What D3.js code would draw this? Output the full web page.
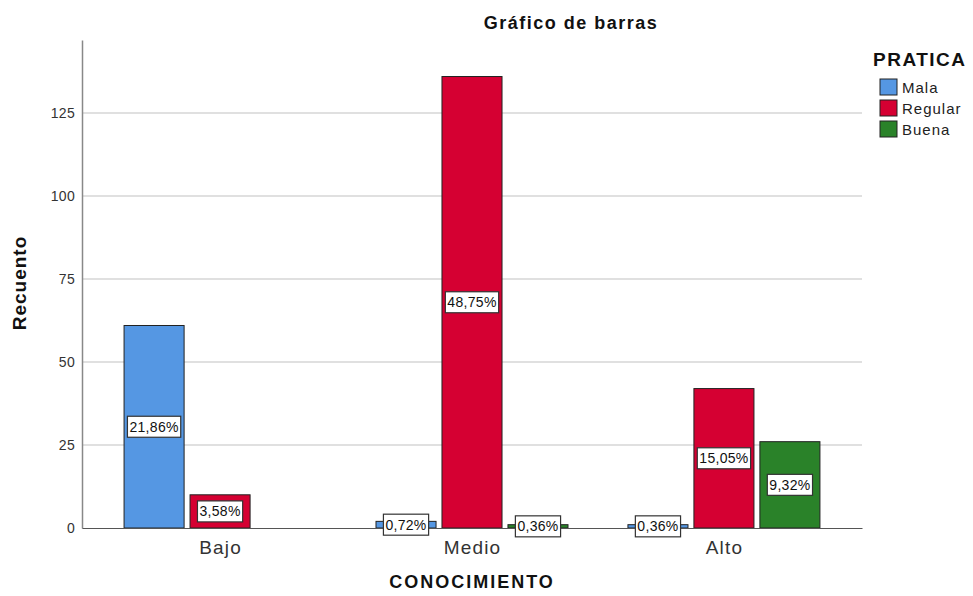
<!DOCTYPE html>
<html>
<head>
<meta charset="utf-8">
<script src="https://cdn.jsdelivr.net/npm/d3@7"></script>
<style>
  body { margin: 0; background: #fff; }
  text { font-family: "Liberation Sans", Arial, sans-serif; }
</style>
</head>
<body>
<div id="chart"></div>
<script>
// data
var categories = ["Bajo", "Medio", "Alto"];
var series = ["Mala", "Regular", "Buena"];
var mala = [61, 2, 1];
var regular = [10, 136, 42];
var buena = [0, 1, 26];
var yTicks = [0, 25, 50, 75, 100, 125];

var colors = { Mala: "#5597e3", Regular: "#d50032", Buena: "#2a8229" };

var width = 973, height = 596;
var margin = { top: 40, right: 111, bottom: 68, left: 82 };
var chartWidth = width - margin.left - margin.right;
var chartHeight = height - margin.top - margin.bottom;

var values = { Mala: mala, Regular: regular, Buena: buena };
var total = d3.sum(mala) + d3.sum(regular) + d3.sum(buena);

var rows = [];
categories.forEach(function(c, i) {
  series.forEach(function(s) {
    rows.push({ cat: c, ser: s, value: values[s][i] });
  });
});

var svg = d3
  .select("#chart")
  .append("svg")
  .attr("width", width)
  .attr("height", height);

var g = svg
  .append("g")
  .attr("transform", "translate(" + margin.left + "," + margin.top + ")");

var xScale = d3
  .scalePoint()
  .domain(categories)
  .range([0, chartWidth])
  .padding(0.548);

var xInner = d3
  .scaleBand()
  .domain(series)
  .range([-96, 96])
  .paddingInner(0.09);

var yScale = d3
  .scaleLinear()
  .domain([0, 147])
  .range([chartHeight, 0]);

// gridlines
g.append("g")
  .selectAll("line")
  .data(yTicks.slice(1))
  .enter()
  .append("line")
  .attr("x1", 0)
  .attr("x2", chartWidth)
  .attr("y1", function(d) { return yScale(d); })
  .attr("y2", function(d) { return yScale(d); })
  .attr("stroke", "#d6d6d6")
  .attr("stroke-width", 1.5);

// y axis
var yAxis = d3.axisLeft(yScale).tickValues(yTicks).tickSize(0).tickPadding(7);
var yG = g.append("g").attr("class", "y-axis").call(yAxis);
yG.select(".domain").attr("stroke", "#888").attr("stroke-width", 1.5);
yG.selectAll("text")
  .style("font-size", "14px")
  .style("letter-spacing", "0.3px")
  .attr("fill", "#333");

// bars
g.append("g")
  .selectAll("rect")
  .data(rows.filter(function(d) { return d.value > 0; }))
  .enter()
  .append("rect")
  .attr("x", function(d) { return xScale(d.cat) + xInner(d.ser); })
  .attr("y", function(d) { return yScale(d.value); })
  .attr("width", xInner.bandwidth())
  .attr("height", function(d) { return chartHeight - yScale(d.value); })
  .attr("fill", function(d) { return colors[d.ser]; })
  .attr("stroke", "#222")
  .attr("stroke-width", 1);

// x axis
var xAxis = d3.axisBottom(xScale).tickSize(0).tickPadding(13);
var xG = g
  .append("g")
  .attr("class", "x-axis")
  .attr("transform", "translate(0," + chartHeight + ")")
  .call(xAxis);
xG.select(".domain").attr("stroke", "#555").attr("stroke-width", 1.2);
xG.selectAll("text")
  .style("font-size", "19px")
  .style("letter-spacing", "1.2px")
  .attr("fill", "#333");

// percentage labels
var labels = g
  .append("g")
  .selectAll("g")
  .data(rows.filter(function(d) { return d.value > 0; }))
  .enter()
  .append("g")
  .attr("transform", function(d) {
    var cx = xScale(d.cat) + xInner(d.ser) + xInner.bandwidth() / 2;
    var cy = (yScale(d.value) + chartHeight) / 2;
    return "translate(" + cx + "," + cy + ")";
  });

labels
  .append("text")
  .text(function(d) {
    return ((d.value / total) * 100).toFixed(2).replace(".", ",") + "%";
  })
  .attr("text-anchor", "middle")
  .attr("dy", "0.36em")
  .style("font-size", "14px")
  .style("letter-spacing", "0.3px")
  .attr("fill", "#111");

labels.each(function() {
  var t = d3.select(this).select("text");
  var bb = t.node().getBBox();
  d3.select(this)
    .insert("rect", "text")
    .attr("x", bb.x - 2)
    .attr("y", -10.5)
    .attr("width", bb.width + 4)
    .attr("height", 21)
    .attr("fill", "#fff")
    .attr("stroke", "#333")
    .attr("stroke-width", 1.2);
});

// title and axis titles
svg
  .append("text")
  .text("Gráfico de barras")
  .attr("x", 571)
  .attr("y", 29)
  .attr("text-anchor", "middle")
  .style("font-size", "18px")
  .style("letter-spacing", "1.5px")
  .style("font-weight", "bold")
  .attr("fill", "#111");

svg
  .append("text")
  .text("CONOCIMIENTO")
  .attr("x", margin.left + chartWidth / 2)
  .attr("y", 588)
  .attr("text-anchor", "middle")
  .style("font-size", "18px")
  .style("letter-spacing", "2px")
  .style("font-weight", "bold")
  .attr("fill", "#111");

svg
  .append("text")
  .text("Recuento")
  .attr("transform", "translate(26," + (margin.top + chartHeight / 2 - 1) + ") rotate(-90)")
  .attr("text-anchor", "middle")
  .style("font-size", "19px")
  .style("letter-spacing", "1px")
  .style("font-weight", "bold")
  .attr("fill", "#111");

// legend
var legend = svg.append("g").attr("transform", "translate(873,0)");
legend
  .append("text")
  .text("PRATICA")
  .attr("x", 0)
  .attr("y", 66)
  .style("font-size", "19px")
  .style("letter-spacing", "1.5px")
  .style("font-weight", "bold")
  .attr("fill", "#111");

var items = legend
  .selectAll("g.item")
  .data(series)
  .enter()
  .append("g")
  .attr("class", "item")
  .attr("transform", function(d, i) { return "translate(7," + (79 + i * 21) + ")"; });

items
  .append("rect")
  .attr("width", 17)
  .attr("height", 16)
  .attr("fill", function(d) { return colors[d]; })
  .attr("stroke", "#222")
  .attr("stroke-width", 1);

items
  .append("text")
  .text(function(d) { return d; })
  .attr("x", 22)
  .attr("y", 14)
  .style("font-size", "15px")
  .style("letter-spacing", "1px")
  .attr("fill", "#222");
</script>
</body>
</html>
